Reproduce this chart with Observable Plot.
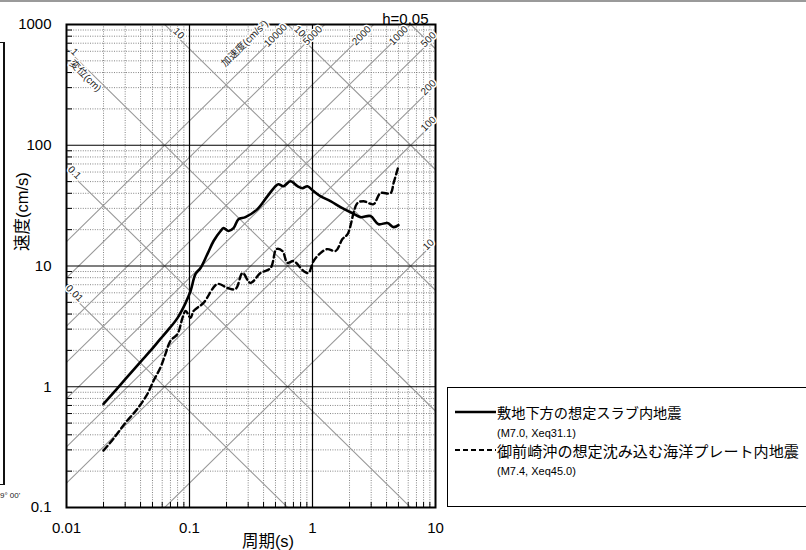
<!DOCTYPE html>
<html><head><meta charset="utf-8">
<script src="https://cdn.jsdelivr.net/npm/d3@7"></script>
<script src="https://cdn.jsdelivr.net/npm/@observablehq/plot@0.6"></script>
<style>
body{margin:0;background:#fff;}
#wrap{position:relative;width:806px;height:550px;overflow:hidden;background:#fff;font-family:"Liberation Sans","Noto Sans CJK JP",sans-serif;}
#topline{position:absolute;left:0;top:0;width:806px;height:0;border-top:2px solid #9a9a9a;}
#leftline{position:absolute;left:3px;top:42px;width:0;height:442px;border-left:2px solid #111;}
#leftcap{position:absolute;left:0;top:42px;width:5px;border-top:1px solid #111;}
#leftbot{position:absolute;left:0;top:484px;width:5px;border-top:1px solid #111;}
#cut{position:absolute;left:0;top:491px;font-size:8px;color:#222;}
#legend{position:absolute;left:447px;top:387px;width:520px;height:120px;border:1px solid #000;box-sizing:border-box;font-family:"Noto Sans CJK JP",sans-serif;color:#000;}
.name{position:absolute;left:49px;line-height:15px;white-space:nowrap;}
.note{position:absolute;left:49px;font-size:11px;line-height:11px;white-space:nowrap;font-family:"Liberation Sans","Noto Sans CJK JP",sans-serif;}
</style></head><body><div id="wrap"></div>
<script>
// ---- data ----
const periodsSlab = [0.02,0.0302,0.04,0.048,0.058,0.066,0.080,0.093,0.102,0.112,0.123,0.140,0.157,0.179,0.189,0.208,0.228,0.250,0.285,0.357,0.431,0.500,0.529,0.581,0.662,0.755,0.829,0.910,1.02,1.16,1.40,1.75,2.11,2.45,2.96,3.44,4.07,4.56,5.0];
const velSlab = [0.72,1.16,1.61,1.98,2.49,2.90,3.72,4.95,6.21,8.59,9.62,12.6,16.1,19.5,20.6,19.5,20.6,24.4,25.4,29.6,37.9,45.8,47.6,45.8,50.4,45.8,44.1,45.8,41.7,37.9,34.4,30.1,27.4,25.4,25.9,22.2,22.7,21.0,21.8];
const periodsOmae = [0.02,0.0241,0.0302,0.0378,0.0456,0.051,0.058,0.0638,0.070,0.080,0.0877,0.093,0.102,0.108,0.130,0.169,0.204,0.237,0.270,0.313,0.378,0.456,0.510,0.570,0.626,0.701,0.845,0.927,1.02,1.16,1.32,1.54,1.75,1.93,2.32,2.60,3.13,3.57,4.31,4.56,5.0];
const velOmae = [0.296,0.372,0.504,0.658,0.875,1.12,1.44,1.87,2.40,2.74,3.72,4.25,3.72,4.25,4.95,7.10,6.57,6.45,8.75,7.24,8.75,9.62,13.8,13.3,10.6,11.0,9.10,8.75,11.0,12.8,13.8,13.3,16.7,18.4,33.2,34.4,32.5,40.1,40.1,48.5,67];
const seriesNames = ["敷地下方の想定スラブ内地震","御前崎沖の想定沈み込む海洋プレート内地震"];
const seriesNotes = ["(M7.0, Xeq31.1)","(M7.4, Xeq45.0)"];
const xTicks = [0.01,0.1,1,10];
const yTicks = [0.1,1,10,100,1000];
const dispLevels = [0.01,0.1,1,10,100,1000];
const dispLabels = ["0.01","0.1","1","10","100",""];
const accLevels = [10,100,200,500,1000,2000,5000,10000];
const accLabels = ["10","100","200","500","1000","2000","5000","10000"];
const dispUnit = "変位(cm)";
const accUnit = "加速度(cm/s²)";
const dampingLabel = "h=0.05";
const xTitle = "周期(s)";
const yTitle = "速度(cm/s)";
const cutText = "9° 00'";

// ---- derived ----
const xDomain = [xTicks[0], xTicks[xTicks.length-1]];
const yDomain = [yTicks[0], yTicks[yTicks.length-1]];
const TWO_PI = 2*Math.PI;
const slab = periodsSlab.map((T,i)=>({T, V: velSlab[i]}));
const omae = periodsOmae.map((T,i)=>({T, V: velOmae[i]}));
const minorOf = (lo, hi) => d3.range(Math.log10(lo), Math.log10(hi)).flatMap(e => d3.range(2,10).map(m => +(m*Math.pow(10,e)).toPrecision(6)));
const minorX = minorOf(xDomain[0], xDomain[1]);
const minorY = minorOf(yDomain[0], yDomain[1]);
const majorX = xTicks.slice(1,-1), majorY = yTicks.slice(1,-1);

const dispLines = dispLevels.flatMap(D => xDomain.map(T => ({D, T, V: TWO_PI*D/T})));
const accLines = accLevels.flatMap(A => xDomain.map(T => ({A, T, V: A*T/TWO_PI})));

const dispLab = dispLevels.map((D,i) => {
  const Tt = TWO_PI*D/yDomain[1];
  const top = Tt >= xDomain[0];
  const T = top ? Tt : xDomain[0];
  return {text: dispLabels[i], T, V: TWO_PI*D/T, top, D};
}).filter(d => d.text);
const accLab = accLevels.map((A,i) => {
  const Tt = TWO_PI*yDomain[1]/A;
  const top = Tt <= xDomain[1];
  const T = top ? Tt : xDomain[1];
  return {text: accLabels[i], T, V: A*T/TWO_PI, top, A};
});
const dispUnitAnchor = dispLab.filter(d => d.D === 1);
const accUnitAnchor = accLab.filter(d => d.A === 10000);

const font = "Liberation Sans, Noto Sans CJK JP, sans-serif";
const labStyle = {fill:"#222", stroke:"white", strokeWidth:3, fontSize:10, textAnchor:"middle", lineAnchor:"middle"};

const chart = Plot.plot({
  width: 806, height: 550,
  marginLeft: 66, marginRight: 371, marginTop: 24, marginBottom: 43,
  x: {type:"log", domain:xDomain, axis:null, label:null},
  y: {type:"log", domain:yDomain, axis:null, label:null},
  style: {fontFamily: font, background:"transparent", color:"#000"},
  marks: [
    Plot.ruleX(minorX, {stroke:"#666", strokeWidth:0.8, strokeDasharray:"1,1.4"}),
    Plot.ruleY(minorY, {stroke:"#666", strokeWidth:0.8, strokeDasharray:"1,1.4"}),
    Plot.line(dispLines, {x:"T", y:"V", z:"D", stroke:"#999", strokeWidth:1.1, clip:true}),
    Plot.line(accLines, {x:"T", y:"V", z:"A", stroke:"#999", strokeWidth:1.1, clip:true}),
    Plot.ruleX(majorX, {stroke:"#000", strokeWidth:1.2}),
    Plot.ruleY(majorY, {stroke:"#000", strokeWidth:1.2}),
    Plot.tickY(minorY, {stroke:"#000", strokeWidth:1, insetRight:363}),
    Plot.tickX(minorX, {stroke:"#000", strokeWidth:1, insetTop:478}),
    Plot.frame({stroke:"#000", strokeWidth:2}),
    // diagonal labels
    Plot.text(dispLab.filter(d=>d.top), {x:"T", y:"V", text:"text", rotate:45, dx:14, dy:9, ...labStyle}),
    Plot.text(dispLab.filter(d=>!d.top), {x:"T", y:"V", text:"text", rotate:45, dx:8, dy:3, ...labStyle}),
    Plot.text(accLab.filter(d=>d.top), {x:"T", y:"V", text:"text", rotate:-45, dx:-12, dy:11, ...labStyle}),
    Plot.text(accLab.filter(d=>!d.top), {x:"T", y:"V", text:"text", rotate:-45, dx:-7, dy:3, ...labStyle}),
    Plot.text(dispUnitAnchor, {x:"T", y:"V", text:()=>dispUnit, rotate:45, dx:19, dy:27, ...labStyle}),
    Plot.text(accUnitAnchor, {x:"T", y:"V", text:()=>accUnit, rotate:-45, dx:-43, dy:19, ...labStyle}),
    // curves
    Plot.line(slab, {x:"T", y:"V", stroke:"#000", strokeWidth:2.6, curve:"catmull-rom"}),
    Plot.line(omae, {x:"T", y:"V", stroke:"#000", strokeWidth:2.4, strokeDasharray:"6,3.5", curve:"catmull-rom"}),
    // axes
    Plot.axisX(xTicks, {tickSize:0, tickPadding:15, fontSize:15, tickFormat:d=>String(d), label:null}),
    Plot.axisY(yTicks, {tickSize:0, tickPadding:15, fontSize:15, tickFormat:d=>String(d), label:null}),
    Plot.text([xTitle], {text:d=>d, frameAnchor:"bottom", dx:17, dy:39, fontSize:16.5}),
    Plot.text([yTitle], {text:d=>d, frameAnchor:"left", rotate:-90, dx:-44, dy:-15, fontSize:16.5}),
    Plot.text([dampingLabel], {text:d=>d, frameAnchor:"top-right", textAnchor:"end", dx:-7, dy:-11, fontSize:15})
  ]
});

const wrap = document.getElementById("wrap");
chart.style.position = "absolute"; chart.style.left = "0"; chart.style.top = "0";
wrap.appendChild(chart);

function addDiv(id, html){ const d=document.createElement("div"); d.id=id; if(html) d.textContent=html; wrap.appendChild(d); return d; }
addDiv("topline"); addDiv("leftline"); addDiv("leftcap"); addDiv("leftbot"); addDiv("cut", cutText);

const legend = addDiv("legend");
const rowsTop = [17, 55];
const nameSizes = ["14.2px","15.1px"];
const dashes = [null, "5,3"];
seriesNames.forEach((name,i) => {
  const y0 = rowsTop[i];
  const sample = document.createElementNS("http://www.w3.org/2000/svg","svg");
  sample.setAttribute("width","44"); sample.setAttribute("height","16");
  sample.style.position="absolute"; sample.style.left="7px"; sample.style.top=(y0-1)+"px";
  const ln = document.createElementNS("http://www.w3.org/2000/svg","line");
  ln.setAttribute("x1","0"); ln.setAttribute("x2","41"); ln.setAttribute("y1","8"); ln.setAttribute("y2","8");
  ln.setAttribute("stroke","#000"); ln.setAttribute("stroke-width", i===0?"2.5":"2");
  if (dashes[i]) ln.setAttribute("stroke-dasharray", dashes[i]);
  sample.appendChild(ln); legend.appendChild(sample);
  const n = document.createElement("div"); n.className="name"; n.textContent=name; n.style.top=(y0)+"px"; n.style.fontSize=nameSizes[i]; legend.appendChild(n);
  const t = document.createElement("div"); t.className="note"; t.textContent=seriesNotes[i]; t.style.top=(y0+23)+"px"; legend.appendChild(t);
});
</script>
</body></html>
